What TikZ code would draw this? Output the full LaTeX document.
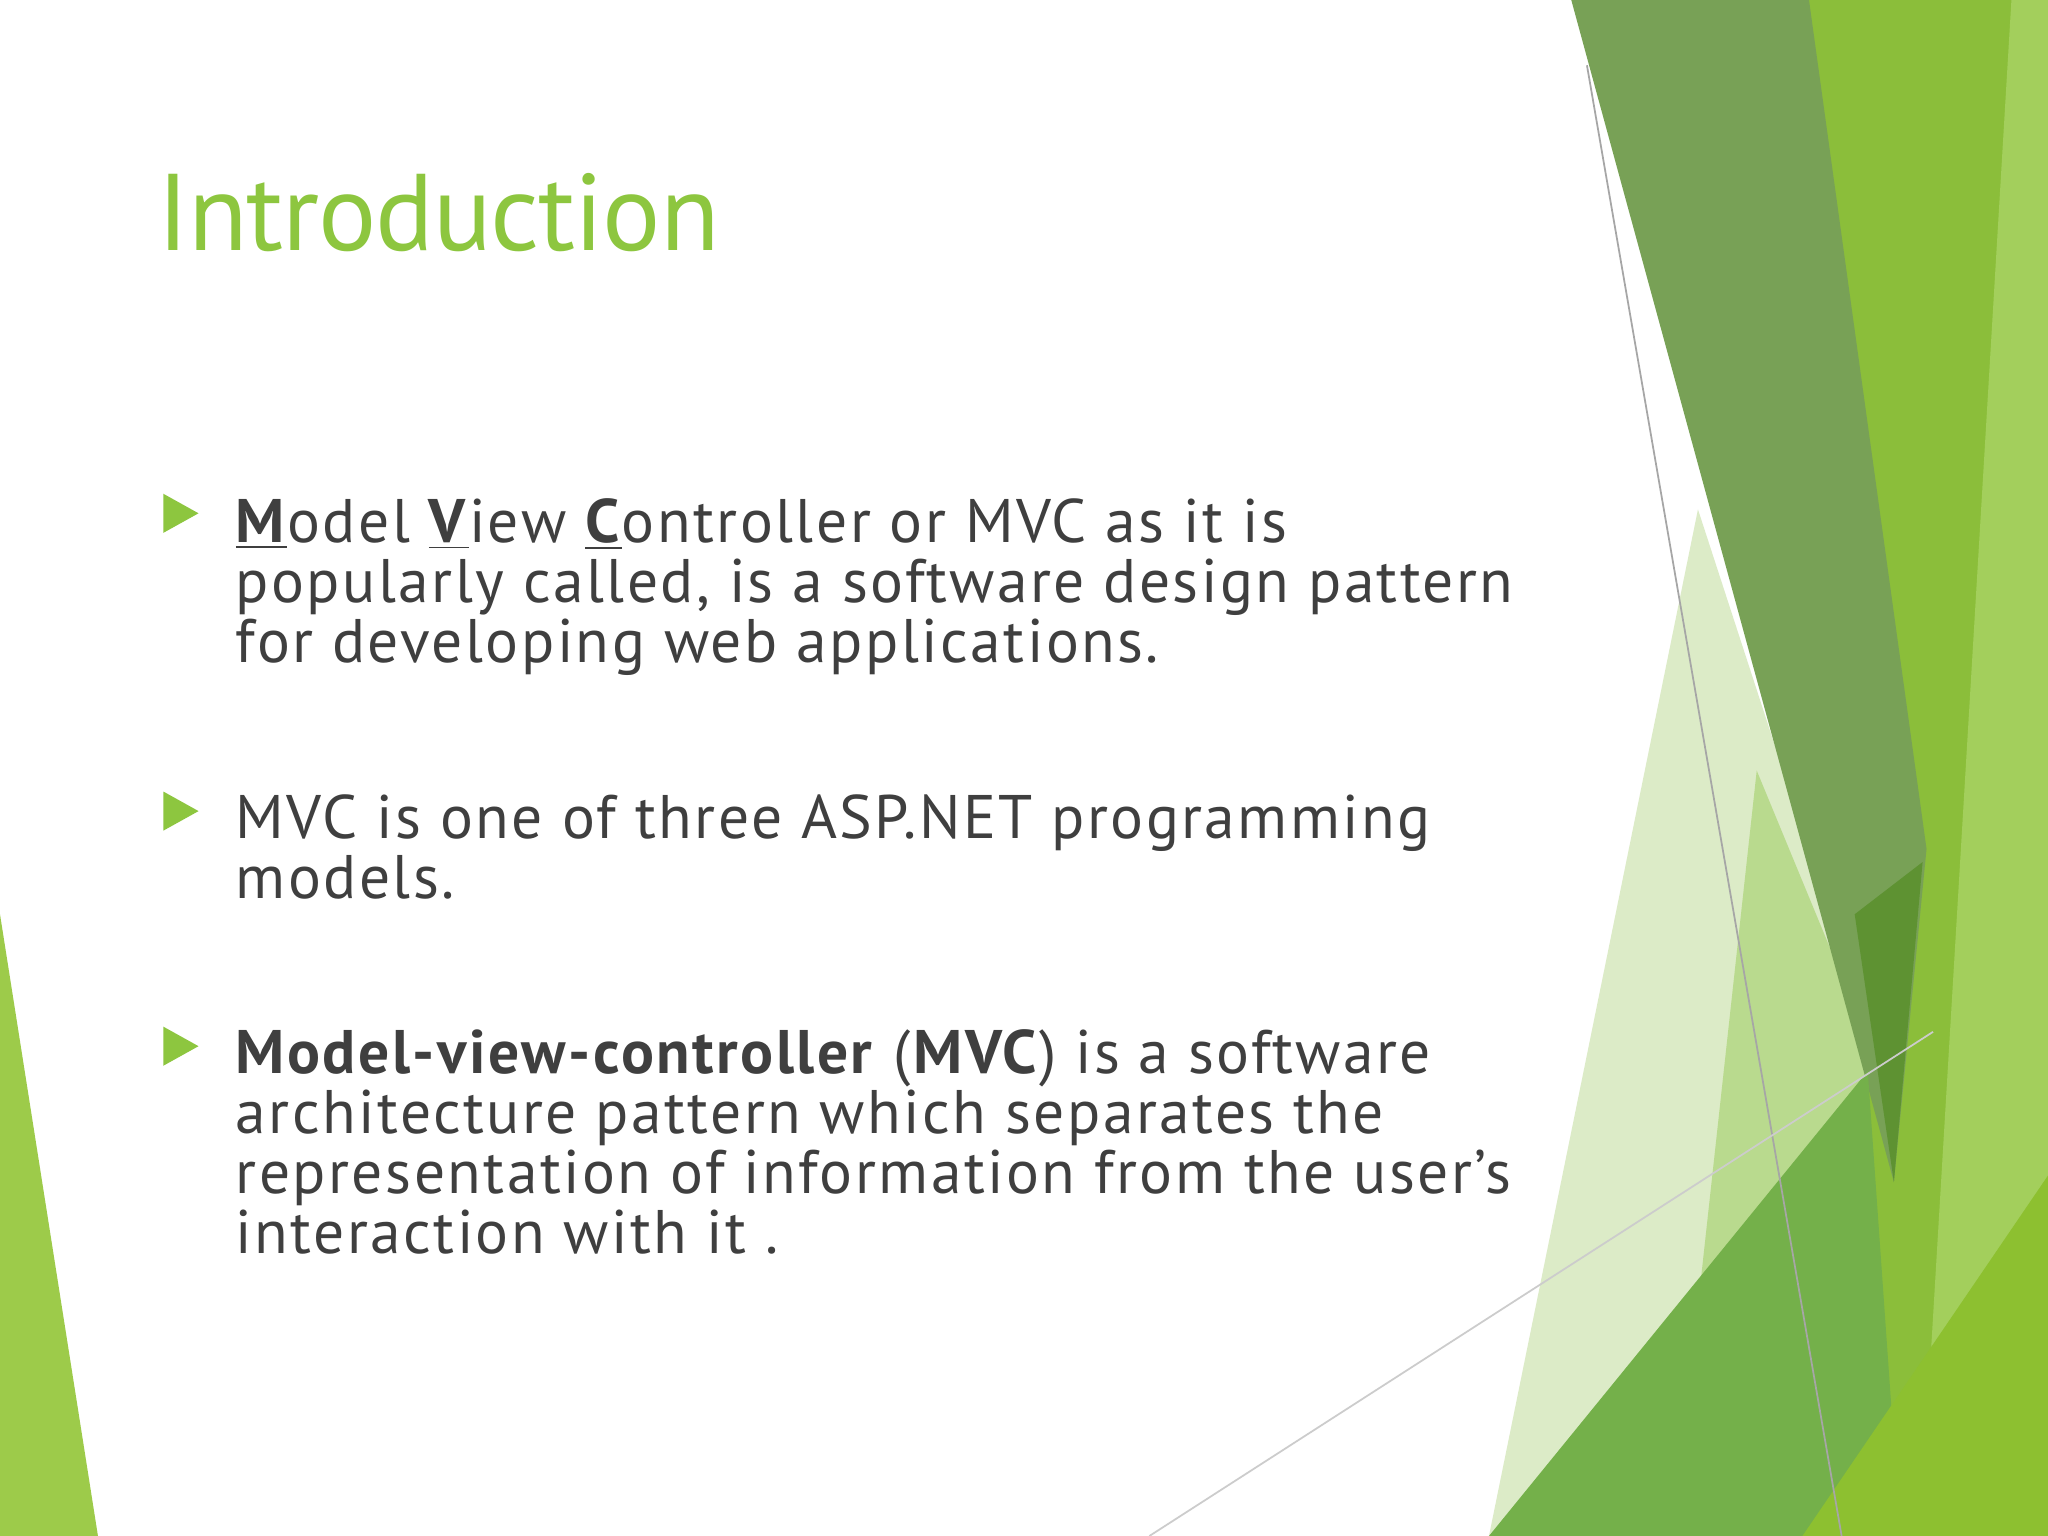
\documentclass[tikz,border=0pt]{standalone}
\usepackage{fontspec}
\setmainfont{PT Sans}
\definecolor{txt}{HTML}{3F3F3F}
\definecolor{ttl}{HTML}{8DC63F}
\definecolor{ga}{HTML}{8BBE3A}
\definecolor{gb}{HTML}{A3CF5C}
\definecolor{gc}{HTML}{DCEBC7}
\definecolor{gd}{HTML}{B9DA8E}
\definecolor{ge}{HTML}{78A156}
\definecolor{gf}{HTML}{5E9232}
\definecolor{gg}{HTML}{74B04A}
\definecolor{gh}{HTML}{8DC030}
\definecolor{gi}{HTML}{9DCB4A}
\newcommand{\ul}[1]{\underline{\textbf{#1}}}
\begin{document}
\begin{tikzpicture}[x=0.013061cm,y=-0.013061cm,
  ln/.style={anchor=base west,inner sep=0,text=txt,font=\fontsize{17.5}{17.5}\selectfont\addfontfeature{LetterSpace=4}},
  bul/.style={fill=ttl}]
\useasboundingbox (0,0) rectangle (1568,1176);
\fill[white] (0,0) rectangle (1568,1176);
% right decorations
\fill[ga] (1385,0)--(1568,0)--(1568,1176)--(1420,1176)--cycle;
\fill[gb] (1540,0)--(1568,0)--(1568,1176)--(1470,1176)--cycle;
\fill[gc] (1300,390)--(1440,820)--(1200,1176)--(1140,1176)--cycle;
\fill[gd] (1345,590)--(1440,820)--(1300,1000)--cycle;
\fill[ge] (1203,0)--(1385,0)--(1475,650)--(1450,905)--cycle;
\fill[gf] (1420,700)--(1472,660)--(1450,905)--cycle;
\fill[gg] (1140,1176)--(1430,820)--(1455,1176)--cycle;
\fill[gh] (1380,1176)--(1568,900)--(1568,1176)--cycle;
\draw[gray!70,line width=0.5pt] (1215,50)--(1410,1176);
\draw[gray!40,line width=0.5pt] (880,1176)--(1480,790);
% left
\fill[gi] (0,700)--(75,1176)--(0,1176)--cycle;
% title
\node[anchor=base west,inner sep=0,text=ttl,font=\fontsize{31}{31}\selectfont\addfontfeature{LetterSpace=-1}] (title) at (120,192) {Introduction};
% bullets
\fill[bul] (125,378)--(152,393)--(125,408)--cycle;
\fill[bul] (125,606)--(152,621)--(125,636)--cycle;
\fill[bul] (125,786)--(152,801)--(125,816)--cycle;
\node[ln] (a1) at (180,415) {\ul{M}odel \ul{V}iew \ul{C}ontroller or MVC as it is};
\node[ln] (a2) at (180,461) {popularly called, is a software design pattern};
\node[ln] (a3) at (180,507) {for developing web applications.};
\node[ln] (b1) at (180,642) {MVC is one of three ASP.NET programming};
\node[ln] (b2) at (180,688) {models.};
\node[ln] (c1) at (180,822) {\textbf{Model-view-controller} (\textbf{MVC}) is a software};
\node[ln] (c2) at (180,868) {architecture pattern which separates the};
\node[ln] (c3) at (180,914) {representation of information from the user's};
\node[ln] (c4) at (180,960) {interaction with it .};
\end{tikzpicture}
\end{document}
